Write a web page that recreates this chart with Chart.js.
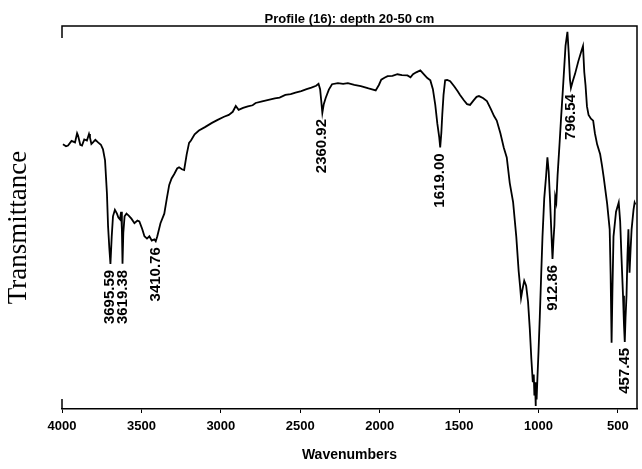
<!DOCTYPE html>
<html>
<head>
<meta charset="utf-8">
<script src="https://cdn.jsdelivr.net/npm/chart.js@4.4.1/dist/chart.umd.min.js"></script>
<style>
  body { margin: 0; background: #fff; }
</style>
</head>
<body>
<canvas id="irChart" width="642" height="469"></canvas>
<script>
// spectrum (wavenumber, arbitrary transmittance 0-100)
const wavenumbers = [
  3994, 3975, 3962, 3940, 3918, 3905, 3899, 3885, 3874, 3860, 3843, 3830, 3824, 3815, 3805, 3790,
  3773, 3755, 3742, 3729, 3717, 3710, 3702, 3695, 3687, 3679, 3667, 3654, 3645, 3635, 3628, 3623,
  3619, 3614, 3606, 3594, 3580, 3563, 3544, 3525, 3513, 3495, 3481, 3465, 3450, 3435, 3419, 3410,
  3400, 3380, 3356, 3340, 3325, 3310, 3294, 3275, 3263, 3245, 3231, 3215, 3200, 3188, 3165, 3138,
  3100, 3056, 3020, 2980, 2950, 2925, 2906, 2888, 2860, 2830, 2800, 2781, 2740, 2700, 2660, 2630,
  2594, 2560, 2530, 2494, 2460, 2430, 2400, 2385, 2375, 2368, 2361, 2352, 2340, 2320, 2300, 2263,
  2230, 2200, 2160, 2119, 2070, 2025, 2005, 1990, 1970, 1950, 1920, 1888, 1860, 1825, 1806, 1790,
  1770, 1744, 1720, 1700, 1681, 1665, 1650, 1637, 1625, 1619, 1612, 1606, 1598, 1588, 1575, 1556,
  1530, 1510, 1494, 1470, 1450, 1431, 1410, 1390, 1375, 1350, 1325, 1300, 1280, 1263, 1240, 1219,
  1200, 1181, 1160, 1140, 1125, 1116, 1110, 1102, 1090, 1078, 1066, 1055, 1045, 1036, 1030, 1026,
  1022, 1019, 1016, 1012, 1007, 1000, 992, 984, 975, 964, 952, 944, 936, 928, 920, 912,
  906, 900, 895, 888, 880, 868, 858, 845, 830, 818, 810, 802, 796, 785, 770, 750,
  730, 720, 712, 704, 695, 685, 670, 656, 645, 631, 612, 600, 590, 568, 552, 546,
  540, 535, 528, 512, 495, 486, 478, 468, 462, 457, 452, 446, 440, 434, 430, 427,
  420, 414, 402, 395, 390
];
const transmittance = [
  69.1, 68.6, 68.8, 70.0, 69.6, 72.0, 71.4, 69.0, 68.8, 70.4, 70.1, 71.8, 70.9, 69.2, 69.6, 70.3,
  69.6, 69.0, 67.8, 64.9, 56.2, 47.7, 42.0, 37.9, 45.0, 50.3, 52.0, 51.0, 50.0, 49.5, 51.5, 47.0,
  37.9, 46.0, 50.3, 51.0, 50.5, 49.7, 48.5, 49.2, 49.0, 47.0, 45.1, 44.5, 45.1, 44.0, 44.3, 43.8,
  45.1, 48.5, 51.0, 55.0, 58.5, 60.2, 61.3, 62.8, 63.1, 62.6, 62.4, 66.5, 69.5, 70.1, 71.7, 72.7,
  73.6, 74.7, 75.5, 76.3, 76.8, 77.6, 79.1, 78.1, 78.6, 79.0, 79.3, 79.9, 80.3, 80.7, 81.1, 81.3,
  82.0, 82.2, 82.6, 83.0, 83.5, 83.9, 84.4, 84.9, 83.5, 80.5, 77.3, 79.6, 81.2, 83.4, 84.8, 85.1,
  84.9, 85.1, 84.6, 84.3, 83.7, 83.2, 84.6, 86.0, 86.5, 86.9, 87.0, 87.4, 87.2, 87.1, 86.6, 87.4,
  87.9, 88.4, 87.3, 86.4, 85.8, 83.5, 79.4, 74.5, 70.9, 68.3, 72.0, 76.8, 82.0, 85.8, 85.9, 85.6,
  84.2, 83.0, 82.0, 80.6, 79.6, 79.4, 80.5, 81.5, 81.7, 81.2, 80.4, 78.3, 76.5, 75.3, 72.0, 68.3,
  65.7, 59.0, 54.0, 45.0, 36.0, 32.0, 29.0, 31.0, 33.5, 32.2, 28.0, 21.0, 13.0, 7.0, 9.0, 3.5,
  7.0, 0.8, 5.0, 2.5, 8.0, 15.0, 24.0, 34.0, 45.0, 55.0, 61.0, 65.7, 62.0, 55.0, 47.0, 39.2,
  44.0, 48.0, 55.4, 54.0, 61.0, 69.0, 76.0, 84.5, 94.8, 98.5, 93.0, 86.0, 83.8, 85.5, 87.5, 90.7,
  93.5, 94.8, 88.0, 84.5, 79.0, 76.8, 75.8, 75.3, 72.0, 69.1, 66.5, 63.5, 60.6, 53.6, 46.9, 35.0,
  17.3, 30.0, 45.0, 51.5, 53.9, 49.0, 40.0, 29.6, 22.0, 17.5, 24.0, 29.6, 40.0, 46.9, 40.0, 35.6,
  42.0, 46.9, 52.0, 53.9, 53.4
];

// peaks marked on the spectrum
const peakWn = [3695.59, 3619.38, 3410.76, 2360.92, 1619.00, 912.86, 796.54, 457.45];

const xTicks = [4000, 3500, 3000, 2500, 2000, 1500, 1000, 500];

const chartTitle = "Profile (16): depth 20-50 cm";

const sans = "'Liberation Sans', Arial, sans-serif";

// value of the spectrum at the data point nearest to a wavenumber
function valueAt(wn) {
  let best = 0;
  for (let i = 1; i < wavenumbers.length; i++) {
    if (Math.abs(wavenumbers[i] - wn) < Math.abs(wavenumbers[best] - wn)) best = i;
  }
  return transmittance[best];
}

// peak labels, rotated, hanging under each minimum
const peakLabels = {
  id: "peakLabels",
  afterDatasetsDraw(chart) {
    const { ctx, scales } = chart;
    ctx.save();
    ctx.fillStyle = "#000";
    ctx.font = "bold 15px " + sans;
    ctx.textAlign = "right";
    ctx.textBaseline = "middle";
    peakWn.forEach((wn) => {
      const x = scales.x.getPixelForValue(wn);
      const y = scales.y.getPixelForValue(valueAt(wn)) + 6;
      ctx.save();
      ctx.translate(x, y);
      ctx.rotate(-Math.PI / 2);
      ctx.fillText(wn.toFixed(2), 0, 0);
      ctx.restore();
    });
    ctx.restore();
  },
};

// top and right frame lines plus the small corner stubs on the left
const frame = {
  id: "frame",
  afterDraw(chart) {
    const { ctx, chartArea: a } = chart;
    ctx.save();
    ctx.strokeStyle = "#000";
    ctx.lineWidth = 1.5;
    ctx.beginPath();
    ctx.moveTo(a.left, a.top + 12);
    ctx.lineTo(a.left, a.top);
    ctx.lineTo(a.right, a.top);
    ctx.lineTo(a.right, a.bottom);
    ctx.moveTo(a.left, a.bottom - 10);
    ctx.lineTo(a.left, a.bottom);
    ctx.stroke();
    ctx.restore();
  },
};

const ctx = document.getElementById("irChart");

new Chart(ctx, {
  type: "line",
  data: {
    datasets: [
      {
        data: wavenumbers.map((w, i) => ({ x: w, y: transmittance[i] })),
        borderColor: "#000",
        borderWidth: 1.8,
        pointRadius: 0,
        tension: 0,
        fill: false,
      },
    ],
  },
  options: {
    responsive: false,
    animation: false,
    devicePixelRatio: 1,
    layout: { padding: { left: 0, right: 5, top: 0, bottom: 0 } },
    plugins: {
      legend: { display: false },
      tooltip: { enabled: false },
      title: {
        display: true,
        text: chartTitle,
        color: "#000",
        fullSize: false,
        font: { family: sans, size: 13, weight: "bold", lineHeight: 1 },
        padding: { top: 12.5, bottom: 0.5 },
      },
    },
    scales: {
      x: {
        type: "linear",
        reverse: true,
        min: 380,
        max: 4000,
        afterBuildTicks: (scale) => {
          scale.ticks = xTicks.map((v) => ({ value: v }));
        },
        border: { display: true, color: "#000", width: 1.5 },
        grid: { display: true, drawOnChartArea: false, drawTicks: true, tickLength: 4, color: "#000" },
        ticks: {
          color: "#000",
          padding: 6,
          maxRotation: 0,
          callback: (v) => String(v),
          font: { family: sans, size: 13, weight: "bold", lineHeight: 1.2 },
        },
        title: {
          display: true,
          text: "Wavenumbers",
          color: "#000",
          font: { family: sans, size: 14, weight: "bold", lineHeight: 1.2 },
          padding: { top: 6.6, bottom: 5 },
        },
      },
      y: {
        min: 0,
        max: 100,
        border: { display: false },
        grid: { display: false, drawTicks: false },
        ticks: { display: false },
        title: {
          display: true,
          // trailing spaces push the rotated word a little below the middle, as in the picture
          text: "Transmittance\u00a0\u00a0\u00a0",
          color: "#000",
          font: { family: "'Liberation Serif', 'Times New Roman', serif", size: 27, lineHeight: 1.2 },
          padding: { top: 2.8, bottom: 26.8 },
        },
      },
    },
  },
  plugins: [peakLabels, frame],
});
</script>
</body>
</html>
